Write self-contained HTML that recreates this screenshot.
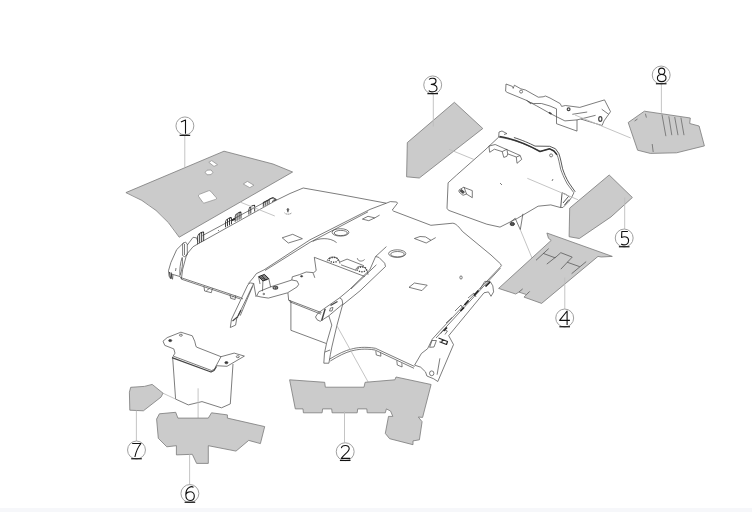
<!DOCTYPE html>
<html><head><meta charset="utf-8">
<style>
html,body{margin:0;padding:0;background:#fff;width:752px;height:512px;overflow:hidden}
svg{position:absolute;left:0;top:0}
.g{fill:#cbcbcb;stroke:#7a7a7a;stroke-width:0.8}
.h{fill:#fff;stroke:#8a8a8a;stroke-width:0.7}
.o{fill:#fff;stroke:#3a3a3a;stroke-width:0.8;stroke-linejoin:round}
.l{fill:none;stroke:#454545;stroke-width:0.7;stroke-linejoin:round}
.ld{fill:none;stroke:#bdbdbd;stroke-width:0.9}
.c{fill:#fff;stroke:#a0a0a0;stroke-width:1}
.t{font-family:"Liberation Sans",sans-serif;font-size:20.5px;fill:#000;text-anchor:middle}
.dg{fill:none;stroke:#111;stroke-width:1.1;stroke-linecap:butt;stroke-linejoin:round}
.u{stroke:#111;stroke-width:1.2}
.strip{position:absolute;left:0;top:508px;width:752px;height:4px;background:#f6f7fa}
</style></head><body>
<svg width="752" height="512" viewBox="0 0 752 512">

<!-- ===== main headliner line art ===== -->
<g class="l">
<!-- top outline (headliner) -->
<path d="M181.4,278.9 L182.6,269.5 L186.7,254.3 L193.1,246.7 L200.2,242.6 L276.2,200.3 L290,193.5 L303.2,188 L340,194.5 L386.3,203.2 L390.3,201.6 L396.7,202 L397.5,203.2 L392.3,210 L393.5,211.1 L430.9,225.3 L452.8,223.2 C456,223.5 459,227 462.4,231.4 L491,255 L500.7,264 L501.2,265.6"/>
<!-- left trim -->
<path d="M183.8,242.6 L176.7,249.6 L170.9,262.5 L168.5,270.7 L169.1,276.6 L170.9,278.3 L172,274.2 L180.2,276.6 L181.4,278.9"/>
<path d="M182.6,255.5 L182.6,243.8 L185.5,242 L187.3,244.3 L187.3,254.9 L184.3,256.7 Z M184.5,244 L184.5,255"/>
<path d="M182.2,257.5 C180.2,263 179.4,270 180,275.5 C182,270 183.2,263 182.2,257.5 Z"/>
<path d="M169.5,272 L170.5,278.6 M171.2,272.5 L172,279" style="stroke-width:1.1"/>
<path d="M187.3,245 L193.1,237.3 L196.7,237.9 L197.8,241.4"/>

<path d="M172.5,279.5 L173,275 M176,268 L175.5,271"/>
<!-- clip strip -->
<path d="M202.5,235.6 L272.1,198.2 L276.2,200.3"/>




<path d="M231.5,220 L235.5,218 M218,231 L219,230"/>
<g style="stroke:#2a2a2a;stroke-width:0.9">
<path transform="translate(200.7,237.8) skewY(-28)" d="M-3,4.8 L-3,-3.2 Q-3,-5 0,-5 Q3,-5 3,-3.2 L3,4.8 M-1,-4.6 L-1,4.8 M1,-4.6 L1,4.8"/>
<path transform="translate(228.5,222.2) skewY(-28)" d="M-2.9,3.6 L-2.9,-2.2 Q-2.9,-3.8 0,-3.8 Q2.9,-3.8 2.9,-2.2 L2.9,3.6 M-1,-3.4 L-1,3.6 M1,-3.4 L1,3.6"/>
<path transform="translate(238.1,216.7) skewY(-28)" d="M-2.9,3.6 L-2.9,-2.2 Q-2.9,-3.8 0,-3.8 Q2.9,-3.8 2.9,-2.2 L2.9,3.6 M-1,-3.4 L-1,3.6 M1,-3.4 L1,3.6"/>
<path transform="translate(251.8,209.6) skewY(-28)" d="M-2.9,3.4 L-2.9,-2 Q-2.9,-3.6 0,-3.6 Q2.9,-3.6 2.9,-2 L2.9,3.4 M-1,-3.2 L-1,3.4"/>
<path transform="translate(266.2,202.6) skewY(-28)" d="M-2.9,2.6 L-2.9,-1.6 L2.9,-1.6 L2.9,2.6 M-1,-1.6 L-1,2.6 M1,-1.6 L1,2.6"/>
<path d="M269.2,199 L273,197.5 L276.4,199.5 L272,201.5" />
<path d="M232,220.5 L235,218.8" style="stroke-width:1.6"/>
</g>
<!-- bottom edge left (double) -->
<path d="M180.8,277.6 L240.7,297.6 L243,299 M181.2,279.1 L240.5,299"/>
<path d="M204,286.5 L204.6,291 L211.3,292.7 L212.5,288.2 M206.5,290.5 L209.5,288.5"/>
<path d="M230,294.4 L230.6,298.3 L235.1,299.5 L235.6,295.5 M232,297.5 L233.5,296"/>

<!-- ridge (double) -->
<path d="M386.3,203.2 L370,209.4 L310,239.8 L264,269.9 L256.4,273.6 L253.2,277.9 L248.2,283.7"/>
<path d="M368,211.8 L310,242.3 L265,270.5"/>
<!-- holes -->
<path d="M282.2,237.8 L292.7,234.3 L302.4,238.7 L288.3,243 Z"/>
<path d="M362.4,219.1 L368,216.3 L374.8,217.9 L368.8,220.7 Z M374.8,217.9 L379.6,215.1"/>
<path d="M414.4,238.5 L420,236.5 L425.5,236.9 L431,240.3 L426.2,243 Z M431,240.3 L435.7,237.6"/>
<path d="M409,287.3 L414.4,283 L427.2,285.2 L421.9,290.6 Z"/>
<ellipse cx="340.5" cy="232.4" rx="8.4" ry="3.7"/>
<ellipse cx="340.8" cy="233" rx="6.6" ry="2.6"/>
<ellipse cx="397.2" cy="253.6" rx="8.6" ry="3.8"/>
<ellipse cx="397.5" cy="254.2" rx="6.8" ry="2.7"/>
<path d="M312.7,241.5 C318,238 330,237 336.6,242.6"/>
<path d="M287.9,208.6 L287.9,212.3" style="stroke-width:1.2"/>
<path d="M284.6,212.9 C285.5,214.6 290.5,214.6 291.5,212.9" style="stroke-dasharray:1.2 0.8"/>
<ellipse cx="287.9" cy="209.6" rx="0.9" ry="0.9"/>
<ellipse cx="461" cy="277.5" rx="1.2" ry="1.6"/>

<!-- center box back -->
<path d="M314.3,257.3 L364.8,276.5 M314.3,257.3 L316.2,270.5 L312.8,273.4"/>
<path d="M327.3,261.3 C327,255.5 339.5,255 339.9,263.6"/>
<ellipse cx="333.6" cy="259.8" rx="4.6" ry="2.4" style="stroke-width:1.4;stroke-dasharray:1.3 1.1"/>
<path d="M355.9,270.3 C355.6,264.5 367.8,264.2 368,274.8"/>
<ellipse cx="361.9" cy="269.4" rx="4.6" ry="2.4" style="stroke-width:1.4;stroke-dasharray:1.3 1.1"/>
<path d="M339.8,262.1 L347.1,259.1 L363.9,265.7 M341,264.8 L356.5,270.5"/>
<path d="M357.3,258.2 C358,261.5 362,262 364.6,259.5"/>
<!-- bracket plate -->
<path d="M256.7,296 L258.8,291.7 L270.5,286.9 L291.8,280 L297.1,281 L298.7,284.3 L297.1,286.9 L287.6,292.8 L268.4,298.1 L261,297 Z"/>
<path d="M291.8,280 L292.3,276.8 L299.3,274.7 L306.2,272 L313.1,272.6"/>
<path d="M258.6,276.7 L264.5,274.4 L268.8,278.7 L262.9,281 Z" style="fill:#888;stroke:#222;stroke-width:1"/>
<path d="M260.5,277.5 L266.5,280 M262,276 L265.5,279.5" style="stroke:#222"/>
<path d="M262.9,281 L262.5,291.2 M268.8,278.7 L270.7,287.3 M258.6,276.7 L260,284" />
<ellipse cx="275.4" cy="287.7" rx="2.3" ry="1.4" style="stroke-width:1.1"/>
<ellipse cx="275.6" cy="287.9" rx="1" ry="0.6" style="fill:#444"/>
<ellipse cx="263.8" cy="294" rx="0.9" ry="0.7"/>
<ellipse cx="301.6" cy="276.3" rx="1.1" ry="0.7" style="fill:#333"/>
<path d="M313.3,273.4 L314.8,277.8"/>
<!-- center box -->
<path d="M287.9,292.9 L288.7,300.2 L290.9,301 L290.9,330.3 L326,343.4 M288.7,300.2 L321.6,312.7 M289.5,301.7 L321,314.2"/>
<!-- right pillar center -->
<path d="M315.5,317 L317.8,313.4 L324.5,308.4 L339.7,297.8 L342,299.5 L342.8,304 L328.8,315.8 L320.2,321.3 L317,319.7 Z"/>
<path d="M342.8,304 L337,325.1 L331.8,347.1 L330.4,354.4 L328.9,363.2 L323.8,363.2 L324.5,353 L326.7,342.7 L331.8,325.1 L328.8,315.8 M325,352 L330,350"/>
<path d="M321.7,320.5 L325.2,308.8 M330.5,305.5 L337.5,301.5" style="stroke-width:1.4"/>
<path d="M329.5,311 L330.5,308 L333,307.5 L332,311 Z"/>
<!-- tube -->
<path d="M339.7,297.8 L349,290 L369.8,269.8 L375.6,256.5 L378.9,257.4 L384.7,263.2 L385.5,266.5 L360,290.8 L342.8,304.8 M375.6,256.5 L386.4,246.6 M376.4,264.8 L351,289"/>
<!-- left pillar center -->
<path d="M247.9,284.7 L231.5,319.3 L230.3,327.5 L235.6,325.1 L236.7,318.7 L253.7,283.5 L250.2,282.9 Z M252.6,286.4 L240.2,315.7 M253.7,283.5 L256.1,297"/>
<path d="M232.5,321 L238,316.5 M238,316 L241,310" style="stroke-width:1.3"/>
<!-- bottom cable (double) -->
<path d="M329.5,359.2 C338,354 345,350.5 351.6,349 C357,347.5 365,346.5 375.5,348.3 L414.6,366.5 M330.3,361 C338.5,356 345.5,352.3 352,350.8 C357.5,349.4 365,348.3 375,350 L414,368.3"/>
<path d="M375.8,351 L376.3,355 L380.9,356.2 L380.6,352.5 M396.8,360.6 L397.3,365 L402.1,367 L401.8,363.2"/>
<!-- right pillar -->
<path d="M501.6,265.6 L440,330.6 L432.3,339.1 L427.6,348.7 L421.4,353.5 L414.6,365.1 L420.7,367.2 L425.5,371.9 L426.9,376 L433.7,378.8 L437.8,381.5 L453.5,344.6 L448.7,335.7 L484,292.8 L488.4,291.9 L491,296.3 L493.6,291.9 L492.8,285.8 L490.1,281.4 L484.8,281.4"/>
<path d="M500.5,268 L441.5,332 M441.5,332 L436,338"/>
<path d="M484.8,281.4 L480,289 M468,298 L474,293 L476,297 M455,311 L461,305 L463,309 M446,323 L452,317.5"/>
<path d="M485.5,286.5 L490,282 M474,295.5 L478.5,290.5 M464.5,305 L468.5,300.5 M460.5,311 L464,307.5 M443.5,331 L447,327.5" style="stroke:#222;stroke-width:1.7"/>
<path d="M429.6,347.3 L432,340.5 L436.4,340.5 L434,347 Z M440.5,333.7 L444,329.6 L447.4,331 L445,334.5 "/>
<path d="M438.5,338 L447.5,341.5 L446.5,344.5 L439.5,341.8 M442.5,339 L441.8,342.5" style="stroke:#2a2a2a;stroke-width:1.2"/>
<path d="M439.9,358.3 L437.1,374.7"/>
<ellipse cx="431.7" cy="373.3" rx="2.2" ry="2.4"/>
</g>
<line class="ld" x1="337" y1="325.9" x2="368.3" y2="382.3"/>

<!-- ===== middle right box piece ===== -->
<g class="l">
<path d="M498.7,137.1 L485,150 L456.7,175 L448.1,182.8 L447,208.3 L448.5,210.3 L461.4,215 L486.8,224.2 L500,227.1 L517.3,218.4 L538.1,206.2 L550.8,204.9 L560.3,207.5 L562.9,207.5 L568.7,201.6 L571.7,197.2 L573.9,192.8 L567.3,184 C564,178 562,173 560.7,169.3 C559.5,164 558.5,158 557,154.7 L554,151 L549.7,148.8 L540,151.5 C530,146 515,139.5 498.7,137.1"/>
<path d="M513.9,137.5 C522,140 530,143.5 535,146.1 L549.7,146.3 L555.5,148.8 L558.8,153.5 C560.5,158 561.5,164 562.6,168.8 C564,173 566,178 569,183 L575.2,191.8" style="stroke-width:0.9"/>
<ellipse cx="551.1" cy="155.4" rx="1.5" ry="1.5"/>
<path d="M498.7,137.1 L499,132 L502,131 L506.9,133.6 L504,134.5"/>
<path d="M488.9,146.1 L495.2,144.5 L520.2,155.5 L521.7,159.4 L517,163.3 L516.3,157 L507.7,153.9 L506.9,156.3 L503.8,157.4 L502.2,151.6 L494.4,149.2 L489.7,152.3 Z M506.9,149.2 L507.7,153.9 M502.2,151.6 L506.9,149.2 M516.3,157 L520.2,155.5"/>
<path d="M464.1,187.5 L472.3,190.6 L472.3,197.7 L466.1,193.8 M459,190 L464,187 L466.5,194 L463,195.3 L459,192 Z"/>
<path d="M460,190.5 L463.5,193.5 M461,189.5 L464.5,192.5" style="stroke-width:1.3"/>
<path d="M562.1,192.8 L561.4,200.1 L560.7,207.5 M562.1,192.8 L566,194.5 L569.5,197 M563,203 L568,197 M564.5,205 L569,199.5" style="stroke-width:0.9"/>
<path d="M515.2,218.3 L520.3,229.7 L522.9,213.8 M510.5,222 L515.2,218.3"/>
<ellipse cx="512.3" cy="224" rx="2.2" ry="1.6" style="fill:#555;stroke:#222;stroke-width:0.8"/>
<path d="M499.5,136.5 C515,139 530,146 540,151.5 L549.7,148.8 L554,151 L557,154.7" style="stroke-width:1.5;stroke:#333"/>
<path d="M500,183 L502,185 M553,179 L552,181"/>
</g>
<line class="ld" x1="520.3" y1="229.7" x2="532.2" y2="258.5"/>
<line class="ld" x1="527.3" y1="178.3" x2="578.1" y2="199.8"/>

<!-- ===== top right bracket ===== -->
<g class="l">
<path d="M506,84 L512.4,86.4 L513.2,88.4 L514.4,85.2 L520.8,88.8 L525.5,90 L538.3,97.2 L543.1,96.8 L545.5,96 L550,98 L560.2,103.6 L561.6,106.4 L565.4,105.5 L579.8,107.4 L604.5,99.9 L610.5,111.6 L608.7,114.3 L604,120.9 L602.1,125.5"/>
<path d="M506,84 L505.6,91.2 L507.2,92.4 L526.3,100.3 L530.3,102.7 L533.5,103.5 L541.5,103.5 L550,106 L556.5,108.8"/>
<path d="M526.3,100.3 L536.7,105.9 L549.5,113.1 L556.5,116.7 L564.9,120.9 L577,119.9 L580.7,119 L602.1,125.5"/>
<path d="M556.5,108.8 L556.5,123.7 L577,131.1 L577,119.9 M572.3,114.3 L587.2,112 M580.7,119 L595.6,115.3 M601.7,109.2 L608.7,114.3 M528,101.5 L531,104"/>
<ellipse cx="521.1" cy="91.6" rx="1.5" ry="1.5"/>
<ellipse cx="568.6" cy="109.2" rx="1.4" ry="1.4" style="stroke-width:1.2"/>
<ellipse cx="600.3" cy="119" rx="1.6" ry="2.3" style="stroke-width:1.2"/>
<path d="M549,112.5 L551.5,114" style="stroke-width:1.5"/>
</g>

<!-- ===== lower left bracket box ===== -->
<g class="l">
<path d="M163,341.2 L167.2,337.6 L180.9,332.2 L192.3,335.8 L194.7,341.2 L195.9,346 L196.5,347.1 L221,356.7 L234.2,353.1 L244.4,356.1 L227,366.3 L216.2,365.7 L214.5,369.3 L211.5,370.5 L173.2,356.1 L175,353.1 L173.8,348.9 L164.8,345.4 Z"/>
<path d="M221,356.7 L216.2,365.7"/>
<path d="M172,357.6 L211,372 L214,370.5 L216.5,366.5" style="stroke-width:1.3"/>
<path d="M172.6,356.7 L175.6,399.1 L188.3,404.9 L202,401.6 L221.5,407.8 L230.3,403.9 L233,363.9"/>
<ellipse cx="170.2" cy="340.6" rx="1.6" ry="1.1" style="fill:#333"/>
<ellipse cx="180.9" cy="335.2" rx="1.5" ry="1"/>
<ellipse cx="226.4" cy="362.7" rx="1.6" ry="1.1" style="fill:#333"/>
<ellipse cx="237.8" cy="356.7" rx="1.5" ry="1"/>
</g>
<line class="ld" x1="198.1" y1="388.3" x2="198.1" y2="421.3"/>
<line class="ld" x1="163" y1="393.2" x2="175.6" y2="399.1"/>

<!-- shape 1 -->
<path class="g" d="M125.9,192.6 L224,151.2 L273,164 L292.6,172 L179.2,237.2 Q159.5,206 125.9,192.6 Z"/>
<path class="h" d="M208.8,162.3 L211.7,160.6 L217.5,164.7 L214,166.4 Z"/>
<path class="h" d="M205.2,172.3 L207,170.2 L211.1,170 L212.9,172.3 L211.1,174.6 L207,174.8 Z"/>
<path class="h" d="M243.3,184 L247.4,181.4 L253.9,185.2 L249.8,187.7 Z"/>
<path class="h" d="M199.5,194.3 L208.5,190.8 Q209.9,190.3 210.8,191.4 L216.2,197.6 Q217.2,198.9 215.6,199.4 L204.8,202.9 Q203.4,203.3 202.6,202.1 L198.6,196.4 Q198,195 199.5,194.3 Z"/>
<line class="ld" x1="184.8" y1="136" x2="184.8" y2="167"/>
<line class="ld" x1="240" y1="202" x2="274.8" y2="216"/>

<!-- shape 3 -->
<path class="g" d="M454.4,102.3 L482.8,128.5 L419.3,178 L406.6,176.8 L407.3,142.6 Z"/>
<line class="ld" x1="433.3" y1="94.5" x2="433.3" y2="126.5"/>
<line class="ld" x1="449" y1="149.3" x2="474" y2="159.5"/>

<!-- shape 5 -->
<path class="g" d="M609.2,175 L632.4,197.5 L611,216.9 L579.3,238.5 L569.1,236.7 L569.7,208.1 Z"/>
<line class="ld" x1="624.7" y1="197.5" x2="624.7" y2="229"/>

<!-- shape 4 -->
<path class="g" d="M546.9,233 L612.3,256.4 L601.2,257 L598,256.4 L541.6,303.4 L524,297.1 L526.5,294.6 L518.9,292.1 L515.7,294 L498.6,288.4 L551.2,240.4 L548.5,238.3 Z"/>
<path class="l" style="stroke:#5a5a5a;stroke-width:0.8" d="M536,260.3 L548.7,248.6 M543,253.3 L555.1,257.8 M546.8,264.1 L555.7,257.1 M555.1,257.8 L560.8,252.7 L572.2,257.1 L560.8,269.2 M567.1,262.2 L579.8,266.7 M571.6,273.7 L586.2,261.6 M518.9,292.1 L522.7,288.9 M526.5,294.6 L529.7,291.4"/>
<line class="ld" x1="564.8" y1="277.6" x2="564.8" y2="309"/>

<!-- shape 8 -->
<path class="g" d="M644.4,111.2 L690.3,118 L689.7,123.5 L699.1,126 L704.4,145.9 L676.6,152.8 L650.3,153.4 L637.6,150.2 L628.2,122.5 Z"/>
<path class="l" style="stroke:#6a6a6a;stroke-width:0.8" d="M662,114.7 L665.9,136.2 M668.8,116.3 L671.8,135.2 M674.7,117 L678,135.2 M680.9,117.6 L684,135.2 M645.4,113.7 L646.4,117.6 M652.2,144 L653.2,152 M637.5,119 L634.6,121"/>
<line class="ld" x1="661.4" y1="84" x2="661.4" y2="112.7"/>
<line class="ld" x1="575" y1="115" x2="630.7" y2="138"/>

<!-- shape 7 -->
<path class="g" d="M130.7,387.3 L144.4,386.4 L152.2,384.4 L163,393.2 L161,397.1 L143.4,410.8 L129.8,410.2 L129.4,392.2 Z"/>
<line class="ld" x1="136.4" y1="410.5" x2="136.4" y2="441"/>

<!-- shape 6 -->
<path class="g" d="M159.4,413.8 L175.7,412.3 L177.9,418.1 L208.3,418.1 L211.5,412.8 L227.4,414.9 L227.4,418.1 L264.7,426.6 L260.4,443.6 L248.7,440.4 L236,451.1 L208.3,445.7 L208.3,463.4 L196.6,463.4 L192.3,454.3 L176.4,454.9 L176.4,445.7 L166.8,446.8 L158.3,438.3 L156.6,419.1 Z"/>
<line class="ld" x1="189.6" y1="454.5" x2="189.6" y2="484.5"/>

<!-- shape 2 -->
<path class="g" d="M289.6,379.8 L324.7,382.3 L325.3,387.2 L364,387.2 L365.1,382.3 L394.9,379.8 L396,377 L431.1,384.5 L422.6,417.4 L418.3,417 L422.1,421.7 L419.4,439.8 L413,440.9 L413,444.7 L389.6,438.7 L385.3,433.4 L388.5,416.4 L392.8,416.4 L390.6,411.1 L386.4,408.9 L385.3,412.8 L367.2,412.8 L366.8,408.9 L357.7,408.9 L357.2,412.8 L332.1,412.8 L331.7,408.9 L322.6,408.9 L322.1,412.8 L303.4,412.8 L303,408.9 L295.3,408.9 Z"/>
<line class="ld" x1="344.5" y1="411" x2="344.5" y2="442.5"/>

<!-- labels -->
<circle class="c" cx="184.9" cy="125.9" r="8.95"/>
<path class="dg" transform="translate(184.9,126.6)" d="M-4,-4.6 L0.6,-6.6 L0.6,7.2"/>
<line class="u" x1="179.6" y1="135.35" x2="190.2" y2="135.35"/>
<circle class="c" cx="345.2" cy="451.7" r="8.95"/>
<path class="dg" transform="translate(345.2,451.7)" d="M-3.8,-3.6 C-3.4,-6.6 4,-7.6 4,-3 C4,-0.2 -1,2.8 -3.9,6.7 L5,6.7"/>
<line class="u" x1="339.9" y1="460.45" x2="350.5" y2="460.45"/>
<circle class="c" cx="432.7" cy="84.9" r="8.95"/>
<path class="dg" transform="translate(432.7,84.9)" d="M-3.6,-5.4 C-2.2,-7.2 3.6,-7.4 3.3,-3.8 C3.1,-1.2 0.5,-0.5 -1.4,-0.5 C2,-0.5 4.4,1 4.3,3.6 C4.1,7.6 -2.5,7.6 -3.9,5.7"/>
<line class="u" x1="427.4" y1="93.65" x2="438.0" y2="93.65"/>
<circle class="c" cx="564.7" cy="318.0" r="8.95"/>
<path class="dg" transform="translate(564.7,318.0)" d="M2.4,7 L2.4,-7 L-5.1,2.4 L5.2,2.4"/>
<line class="u" x1="559.4" y1="326.75" x2="570.0" y2="326.75"/>
<circle class="c" cx="624.2" cy="238.0" r="8.95"/>
<path class="dg" transform="translate(624.2,238.0)" d="M3.7,-6.5 L-2.4,-6.5 L-2.6,-0.6 C0,-1.7 4.4,-1.6 4.4,2.4 C4.4,6.2 1.5,7 -0.4,6.9 C-1.8,6.8 -2.7,6.3 -3,6"/>
<line class="u" x1="618.9" y1="246.75" x2="629.5" y2="246.75"/>
<circle class="c" cx="189.9" cy="493.5" r="8.95"/>
<path class="dg" transform="translate(189.9,493.5)" d="M3.6,-6.2 C2.2,-7.4 -4.1,-7.2 -4.1,1.2 C-4.1,5.6 -2.1,7 0.3,7 C3,7 4.4,5.2 4.4,2.4 C4.4,-0.4 2.6,-1.7 0.3,-1.7 C-2,-1.7 -3.6,-0.4 -4.1,1.2"/>
<line class="u" x1="184.6" y1="502.25" x2="195.2" y2="502.25"/>
<circle class="c" cx="136.5" cy="450.0" r="8.95"/>
<path class="dg" transform="translate(136.5,450.0)" d="M-4.3,-6.5 L4.4,-6.5 C1.6,-3 -0.6,2 -1.6,7"/>
<line class="u" x1="131.2" y1="458.75" x2="141.8" y2="458.75"/>
<circle class="c" cx="661.2" cy="75.0" r="8.95"/>
<path class="dg" transform="translate(661.2,75.0)" d="M0.5,-0.6 C-1.6,-0.6 -2.6,-2 -2.6,-3.75 C-2.6,-5.6 -1.4,-6.9 0.5,-6.9 C2.4,-6.9 3.6,-5.6 3.6,-3.75 C3.6,-2 2.6,-0.6 0.5,-0.6 C-2.3,-0.6 -3.8,1 -3.8,3 C-3.8,5.2 -1.9,6.6 0.5,6.6 C2.9,6.6 4.8,5.2 4.8,3 C4.8,1 3.3,-0.6 0.5,-0.6 Z"/>
<line class="u" x1="655.9" y1="83.75" x2="666.5" y2="83.75"/>
</svg>
<div class="strip"></div>
</body></html>
